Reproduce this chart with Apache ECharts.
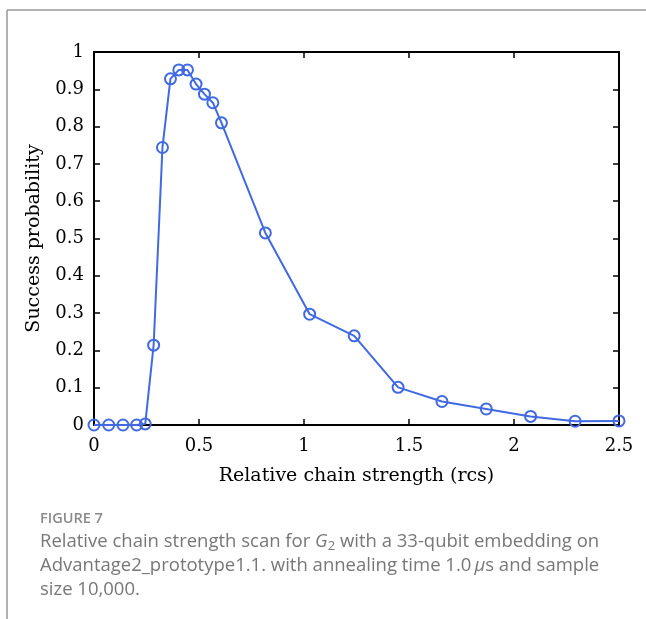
<!DOCTYPE html>
<html>
<head>
<meta charset="utf-8">
<script src="https://cdn.jsdelivr.net/npm/echarts@6/dist/echarts.min.js"></script>
<style>
  html, body { margin: 0; padding: 0; background: #fff; }
  #chart { width: 646px; height: 619px; }
</style>
</head>
<body>
<div id="chart"></div>
<script>
// relative chain strength (rcs) values
var rcs = [0, 0.07, 0.138, 0.203, 0.244, 0.284, 0.326, 0.364, 0.404, 0.445, 0.486, 0.526, 0.566, 0.607,
  0.816, 1.027, 1.239, 1.448, 1.657, 1.868, 2.079, 2.291, 2.5];
// success probability
var success = [0, 0, 0, 0, 0.003, 0.214, 0.744, 0.928, 0.952, 0.952, 0.914, 0.887, 0.864, 0.810,
  0.515, 0.297, 0.239, 0.101, 0.063, 0.043, 0.023, 0.010, 0.011];

var xTicks = ['0', '0.5', '1', '1.5', '2', '2.5'];
var yTicks = ['0', '0.1', '0.2', '0.3', '0.4', '0.5', '0.6', '0.7', '0.8', '0.9', '1'];

var captionLines = [
  'Relative chain strength scan for {it|G}{sub|2} with a 33-qubit embedding on',
  'Advantage2_prototype1.1. with annealing time 1.0\u2009{it|\u03bc}s and sample',
  'size 10,000.'
];

var serif = '"DejaVu Serif", "Liberation Serif", serif';
var sans = '"Open Sans", "Noto Sans", sans-serif';

var myChart = echarts.init(document.getElementById('chart'));

var points = rcs.map(function (x, i) { return [x, success[i]]; });

var axisLine = { show: true, onZero: false, lineStyle: { color: '#000', width: 2 } };
var axisTick = { show: true, inside: true, length: 6, lineStyle: { color: '#000', width: 1.5 } };

var option = {
  animation: false,
  backgroundColor: '#fff',
  grid: { left: 94, right: 27, top: 52, bottom: 194 },
  xAxis: [
    {
      type: 'value', min: 0, max: 2.5, interval: 0.5,
      name: 'Relative chain strength (rcs)',
      nameLocation: 'middle', nameGap: 42,
      nameTextStyle: { fontFamily: serif, fontSize: 19, color: '#000' },
      axisLine: axisLine,
      axisTick: axisTick,
      axisLabel: {
        fontFamily: serif, fontSize: 18, color: '#000', margin: 12,
        formatter: function (v) { return xTicks[Math.round(v / 0.5)]; }
      },
      splitLine: { show: false }
    },
    {
      type: 'value', min: 0, max: 2.5, interval: 0.5, position: 'top',
      axisLine: axisLine, axisTick: axisTick,
      axisLabel: { show: false }, splitLine: { show: false }
    }
  ],
  yAxis: [
    {
      type: 'value', min: 0, max: 1, interval: 0.1,
      name: 'Success probability',
      nameLocation: 'middle', nameGap: 50, nameRotate: 90,
      nameTextStyle: { fontFamily: serif, fontSize: 19, color: '#000' },
      axisLine: axisLine,
      axisTick: axisTick,
      axisLabel: {
        fontFamily: serif, fontSize: 18, color: '#000', margin: 10,
        formatter: function (v) { return yTicks[Math.round(v * 10)]; }
      },
      splitLine: { show: false }
    },
    {
      type: 'value', min: 0, max: 1, interval: 0.1, position: 'right',
      axisLine: axisLine, axisTick: axisTick,
      axisLabel: { show: false }, splitLine: { show: false }
    }
  ],
  series: [
    {
      type: 'line',
      data: points,
      symbol: 'circle',
      symbolSize: 11,
      clip: false,
      lineStyle: { color: '#4169e1', width: 2 },
      itemStyle: { color: 'rgba(0,0,0,0)', borderColor: '#4169e1', borderWidth: 2 }
    }
  ],
  graphic: [
    { type: 'line', shape: { x1: 7, y1: 10, x2: 646, y2: 10 }, style: { stroke: '#999', lineWidth: 1.5 } },
    { type: 'line', shape: { x1: 7, y1: 10, x2: 7, y2: 619 }, style: { stroke: '#999', lineWidth: 1.5 } },
    {
      type: 'text', left: 40, top: 511,
      style: { text: 'FIGURE 7', fontFamily: sans, fontSize: 14.5, fontWeight: 600, fill: '#8a8a8a' }
    }
  ].concat(captionLines.map(function (t, i) {
    return {
      type: 'text', left: 40, top: 532 + i * 24,
      style: {
        text: t, fontFamily: sans, fontSize: 18.5, fill: '#777',
        rich: {
          it: { fontFamily: sans, fontSize: 18.5, fontStyle: 'italic', fill: '#777' },
          sub: { fontFamily: sans, fontSize: 13, fill: '#777', verticalAlign: 'bottom', padding: [9, 0, 0, 0] }
        }
      }
    };
  }))
};

myChart.setOption(option);
</script>
</body>
</html>
